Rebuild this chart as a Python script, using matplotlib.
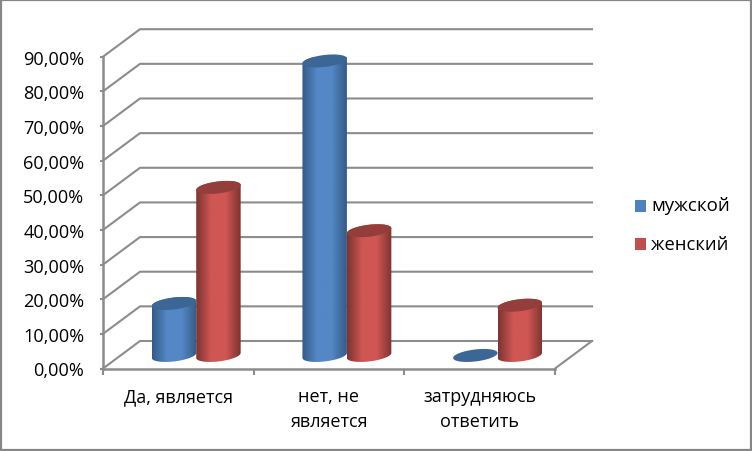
import numpy as np
import matplotlib
matplotlib.use("Agg")
from matplotlib import pyplot as plt
from matplotlib.colors import LinearSegmentedColormap
from matplotlib.patches import PathPatch, Rectangle
from matplotlib.path import Path

categories = ["Да, является", "нет, не\nявляется", "затрудняюсь\nответить"]
male = [15.0, 85.0, 0.0]
female = [48.5, 36.0, 14.5]
yticks = [0, 10, 20, 30, 40, 50, 60, 70, 80, 90]

W, H = 752, 452
plt.rcParams["font.family"] = ["Open Sans", "DejaVu Sans"]

fig = plt.figure(figsize=(W / 100, H / 100), dpi=100, facecolor="white")
# axes = front plane of the 3d box
ax = fig.add_axes([103 / W, 1 - 369.5 / H, 452 / W, 311.8 / H])
ax.set_xlim(0, 3)
ax.set_ylim(0, 90)
ax.patch.set_alpha(0)
for s in ax.spines.values():
    s.set_visible(False)

# depth of the box in data units
dx = 37 / (452 / 3)
dy = 27.5 / (311.8 / 90)
grid = "#8c8c8c"

for v in yticks:
    ax.plot([0, dx, 3 + dx], [v, v + dy, v + dy], color=grid, lw=1.5, clip_on=False, zorder=1)
ax.plot([3, 3 + dx], [0, dy], color=grid, lw=1.5, clip_on=False, zorder=1)
ax.plot([0, 3], [0, 0], color=grid, lw=1.8, clip_on=False, zorder=1)
ax.plot([0, 0], [0, 90], color=grid, lw=1.8, clip_on=False, zorder=1)

ax.set_xticks([0, 1, 2, 3])
ax.set_xticklabels([])
ax.set_yticks(yticks)
ax.set_yticklabels([("%.2f%%" % v).replace(".", ",") for v in yticks])
ax.tick_params(axis="y", length=2.5, width=1.5, color=grid, labelsize=13.1, labelcolor="black", pad=11)
ax.tick_params(axis="x", length=4, width=1.5, color=grid)

for i, c in enumerate(categories):
    ax.text(i + 0.5, -5.4, c, ha="center", va="top", fontsize=13, color="black", linespacing=1.46)

bar_w = 0.295
a = bar_w / 2
b = 6 / (311.8 / 90)
tilt = 2.5 / (311.8 / 90)
base = dy / 2 - 0.2
t_low = np.linspace(np.pi, 2 * np.pi, 40)
t_up = np.linspace(0, np.pi, 40)


def ell(cx, cy, t):
    return cx + a * np.cos(t), cy + b * np.sin(t) + tilt * np.cos(t)


def cylinder(cx, val, edge, mid, top, z):
    y1 = base + val
    if val > 0:
        xb, yb = ell(cx, base, t_low)
        xt, yt = ell(cx, y1, t_up)
        verts = list(zip(xb, yb)) + list(zip(xt, yt)) + [(xb[0], yb[0])]
        codes = [Path.MOVETO] + [Path.LINETO] * (len(verts) - 2) + [Path.CLOSEPOLY]
        clip = PathPatch(Path(verts, codes), transform=ax.transData, fc="none", ec="none")
        ax.add_patch(clip)
        cmap = LinearSegmentedColormap.from_list("c", [edge, mid, mid, edge])
        im = ax.imshow(np.linspace(0, 1, 64).reshape(1, -1), cmap=cmap, aspect="auto",
                       extent=[cx - a, cx + a, base - b - tilt, y1 + b + tilt], zorder=z,
                       clip_on=True)
        im.set_clip_path(clip)
    x, y = ell(cx, y1, np.linspace(0, 2 * np.pi, 80))
    ax.fill(x, y, color=top, lw=0, zorder=z + 0.1, clip_on=False)


for i in range(3):
    c = i + 0.5 + dx / 2 - 0.004
    cylinder(c - a, male[i], "#335b87", "#5487c6", "#3c6695", 3)
    cylinder(c + a, female[i], "#7d3432", "#cf5653", "#943e3c", 4)
ax.set_xlim(0, 3)
ax.set_ylim(0, 90)

# legend and chart frame in pixels
full = fig.add_axes([0, 0, 1, 1], zorder=-1)
full.set_xlim(0, W)
full.set_ylim(H, 0)
full.axis("off")
full.add_patch(Rectangle((635, 201), 11, 12, fc="#4f81bd", ec="none"))
full.add_patch(Rectangle((635, 239), 11, 12, fc="#c0504d", ec="none"))
full.text(651, 206.5, "мужской", fontsize=13.5, va="center", color="black")
full.text(651, 245, "женский", fontsize=13.2, va="center", color="black")
full.add_patch(Rectangle((1, 1), 750, 450, fc="none", ec="#868686", lw=1.6))

fig.savefig("out.png", dpi=100)
